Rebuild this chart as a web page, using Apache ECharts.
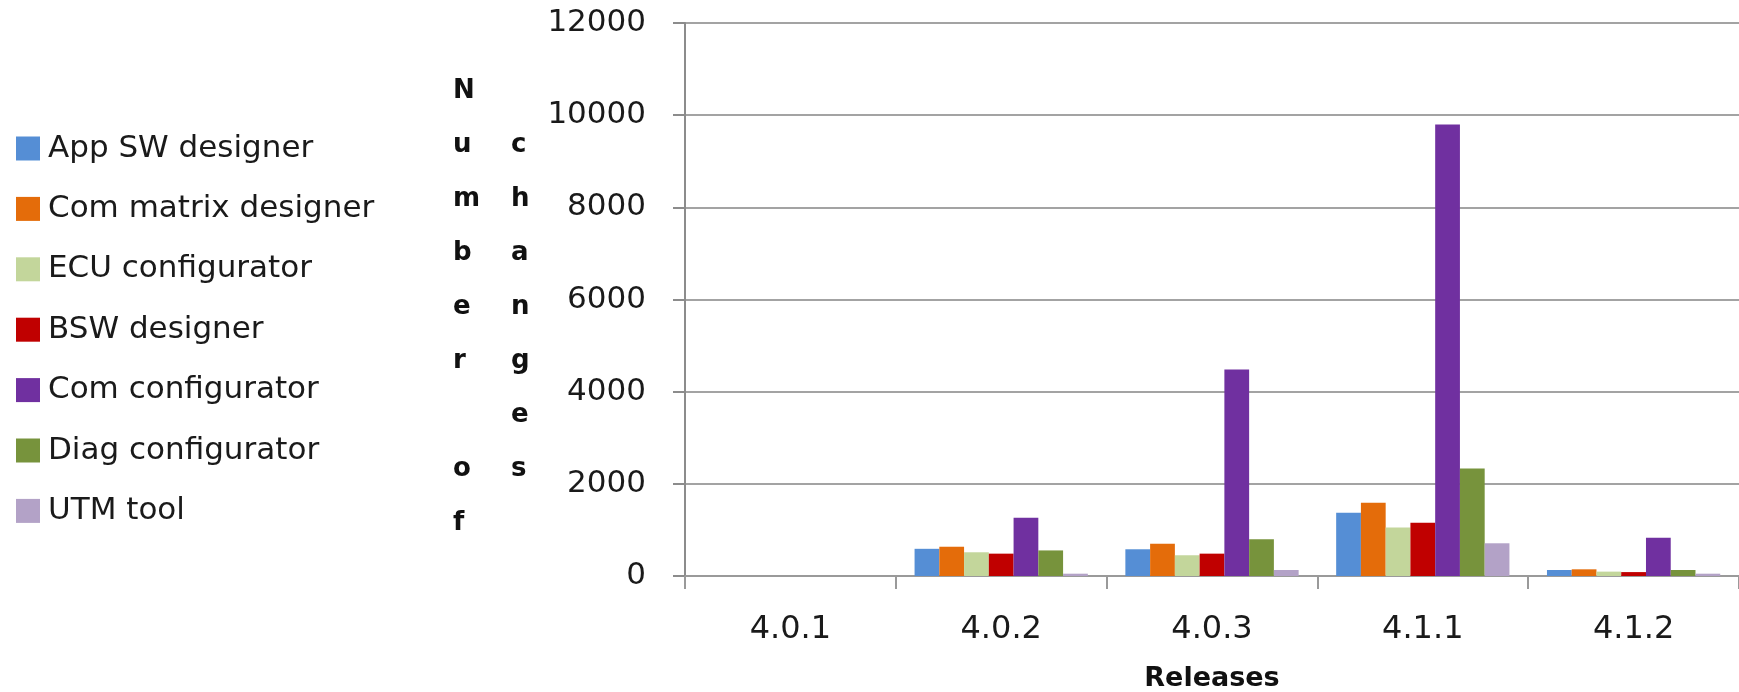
<!DOCTYPE html>
<html>
<head>
<meta charset="utf-8">
<title>Number of changes per release</title>
<script src="https://cdn.jsdelivr.net/npm/echarts@6/dist/echarts.min.js"></script>
<style>
  html, body { margin: 0; padding: 0; background: #ffffff; }
  #chart { width: 1739px; height: 692px; }
</style>
</head>
<body>
<div id="chart"></div>
<script>
// Releases on the category axis
const releases = ['4.0.1', '4.0.2', '4.0.3', '4.1.1', '4.1.2'];

// Number of changes per tool and release
const appSwDesigner      = [0, 590, 580, 1370, 130];
const comMatrixDesigner  = [0, 635, 700, 1590, 145];
const ecuConfigurator    = [0, 515, 450, 1050, 95];
const bswDesigner        = [0, 485, 485, 1155, 85];
const comConfigurator    = [0, 1265, 4480, 9800, 830];
const diagConfigurator   = [0, 555, 795, 2335, 130];
const utmTool            = [0, 50, 130, 710, 50];

const seriesNames = ['App SW designer', 'Com matrix designer', 'ECU configurator',
  'BSW designer', 'Com configurator', 'Diag configurator', 'UTM tool'];
const seriesValues = [appSwDesigner, comMatrixDesigner, ecuConfigurator,
  bswDesigner, comConfigurator, diagConfigurator, utmTool];
const seriesColors = ['#558ED5', '#E46C0A', '#C3D69B', '#C00000', '#7030A0', '#77933C', '#B3A2C7'];

// Value axis ticks
const yMin = 0, yMax = 12000, yStep = 2000;

const xAxisTitle = 'Releases';
const yAxisTitle = 'Number of changes';

// The value axis title is stacked letter by letter in two columns:
// "Number" + gap + "of" on the left, "changes" on the right, one row lower.
const titleWords = yAxisTitle.split(' ');
const leftColumn = titleWords[0].split('').concat([' '], titleWords[1].split('')).join('\n');
const rightColumn = titleWords[2].split('').join('\n');

const FONT = '"DejaVu Sans", sans-serif';
const chart = echarts.init(document.getElementById('chart'), null, { renderer: 'canvas' });

chart.setOption({
  animation: false,
  backgroundColor: '#ffffff',
  color: seriesColors,
  grid: {
    left: 685, right: 0, top: 23, bottom: 116,
    containLabel: false,
    outerBoundsMode: 'none'
  },
  legend: {
    orient: 'vertical',
    left: 16,
    top: 133,
    padding: 0,
    itemWidth: 24,
    itemHeight: 24,
    itemGap: 29.4,
    icon: 'rect',
    textStyle: { fontFamily: FONT, fontSize: 31, color: '#1a1a1a', lineHeight: 30, padding: [0, 0, 0, 3] },
    data: seriesNames
  },
  xAxis: {
    type: 'category',
    data: releases,
    boundaryGap: true,
    name: xAxisTitle,
    nameLocation: 'middle',
    nameGap: 89,
    nameTextStyle: { fontFamily: FONT, fontSize: 27, fontWeight: 'bold', color: '#111111' },
    axisLine: { show: true, lineStyle: { color: '#9a9a9a', width: 2 } },
    axisTick: { show: true, length: 13, lineStyle: { color: '#9a9a9a', width: 2 } },
    axisLabel: { fontFamily: FONT, fontSize: 32, color: '#1a1a1a', margin: 38 }
  },
  yAxis: {
    type: 'value',
    min: yMin,
    max: yMax,
    interval: yStep,
    axisLine: { show: true, lineStyle: { color: '#8c8c8c', width: 2 } },
    axisTick: { show: true, length: 12, lineStyle: { color: '#8c8c8c', width: 2 } },
    axisLabel: {
      fontFamily: FONT, fontSize: 31, color: '#1a1a1a', margin: 39,
      formatter: function (v) { return String(v); }
    },
    splitLine: { show: true, lineStyle: { color: '#a3a3a3', width: 2 } }
  },
  series: seriesNames.map(function (name, i) {
    return {
      name: name,
      type: 'bar',
      data: seriesValues[i],
      barGap: '0%',
      barCategoryGap: '17.8%',
      itemStyle: { color: seriesColors[i] }
    };
  }),
  graphic: [
    {
      type: 'text',
      left: 466 - 13,
      top: 64,
      style: {
        text: leftColumn,
        font: 'bold 26px ' + FONT,
        lineHeight: 54,
        fill: '#111111',
        align: 'center'
      }
    },
    {
      type: 'text',
      left: 524 - 13,
      top: 118,
      style: {
        text: rightColumn,
        font: 'bold 26px ' + FONT,
        lineHeight: 54,
        fill: '#111111',
        align: 'center'
      }
    }
  ]
});
</script>
</body>
</html>
